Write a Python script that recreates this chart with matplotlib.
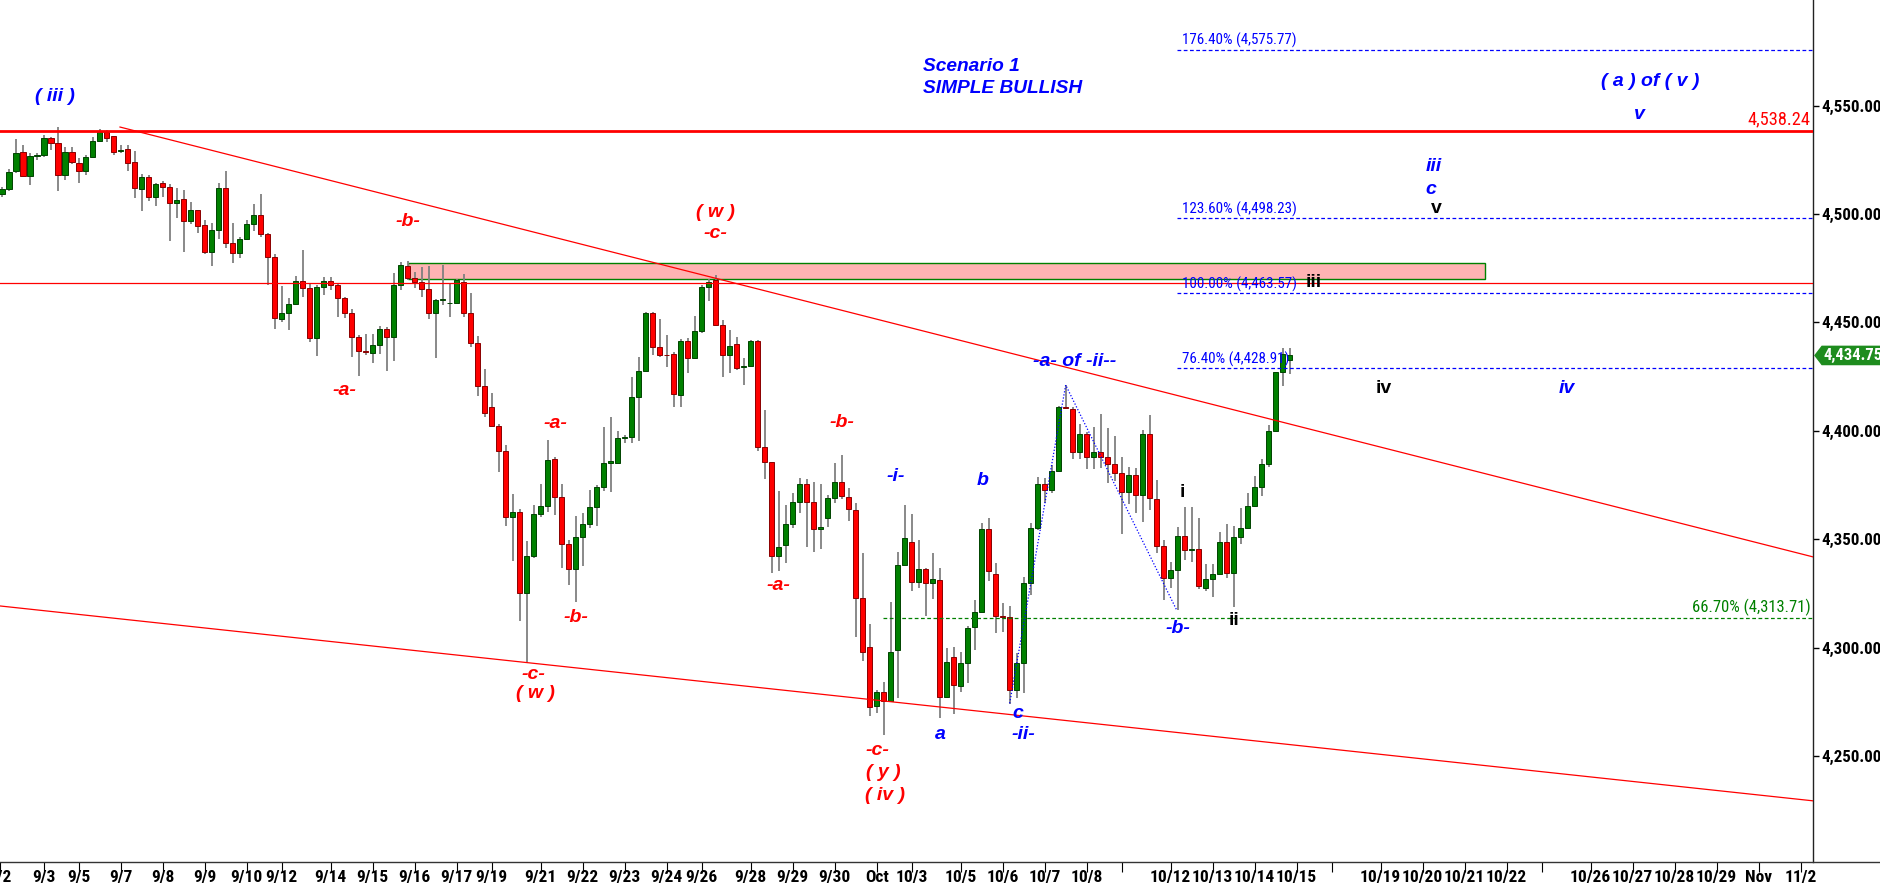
import matplotlib
matplotlib.use("Agg")
import matplotlib.pyplot as plt
from matplotlib import font_manager as fm
from matplotlib.lines import Line2D
from matplotlib.patches import Polygon, Rectangle
from matplotlib.transforms import blended_transform_factory
import numpy as np

# ---------------- data ----------------
opens = [4509.1, 4511.4, 4519.7, 4528.4, 4517.7, 4526.9, 4527.1, 4534.9, 4532.6, 4518.2,
         4528.4, 4523.4, 4520.0, 4526.4, 4533.8, 4538.0, 4536.0, 4529.1, 4529.8, 4523.8,
         4511.4, 4517.2, 4508.0, 4514.2, 4512.6, 4504.9, 4506.8, 4496.9, 4501.8, 4494.8,
         4482.6, 4492.6, 4511.8, 4486.8, 4481.9, 4488.3, 4495.4, 4499.4, 4490.6, 4480.0,
         4451.4, 4454.2, 4458.5, 4469.2, 4465.7, 4442.6, 4466.5, 4469.2, 4467.1, 4461.1,
         4454.2, 4443.1, 4437.0, 4436.1, 4439.6, 4446.8, 4443.4, 4467.3, 4476.0, 4470.3,
         4468.8, 4465.3, 4454.2, 4460.3, 4458.8, 4458.8, 4468.8, 4454.5, 4440.7, 4420.8,
         4411.1, 4402.4, 4390.8, 4360.1, 4362.7, 4325.3, 4342.3, 4361.5, 4365.3, 4386.8,
         4369.3, 4347.8, 4336.1, 4350.9, 4357.0, 4364.7, 4374.2, 4385.3, 4385.3, 4396.5,
         4397.1, 4415.7, 4427.7, 4454.5, 4438.5, 4435.0, 4435.3, 4416.5, 4441.4, 4433.4,
         4446.0, 4466.2, 4469.5, 4448.8, 4435.0, 4439.9, 4429.6, 4430.0, 4441.4, 4392.7,
         4385.5, 4342.2, 4347.3, 4356.8, 4367.0, 4375.3, 4367.3, 4354.5, 4359.6, 4369.2,
         4376.5, 4369.6, 4363.5, 4322.7, 4300.4, 4273.1, 4279.4, 4275.5, 4298.9, 4338.1,
         4348.5, 4330.4, 4336.1, 4329.9, 4331.2, 4277.1, 4295.5, 4282.3, 4292.7, 4309.4,
         4316.6, 4354.5, 4333.9, 4314.6, 4313.9, 4280.4, 4292.7, 4329.6, 4355.0, 4375.3,
         4372.7, 4381.6, 4410.8, 4409.9, 4390.1, 4398.4, 4387.7, 4390.1, 4387.7, 4384.7,
         4380.7, 4371.9, 4379.6, 4370.4, 4398.4, 4368.4, 4347.0, 4331.9, 4335.8, 4351.6,
         4345.0, 4345.3, 4327.3, 4331.5, 4333.9, 4348.6, 4334.3, 4351.2, 4355.0, 4365.3,
         4374.2, 4384.7, 4399.9, 4427.3, 4432.8]
highs = [4512.3, 4520.6, 4534.4, 4531.8, 4528.3, 4528.3, 4536.4, 4535.7, 4540.0, 4531.0,
         4531.0, 4525.7, 4527.2, 4535.4, 4539.1, 4538.7, 4536.0, 4531.8, 4531.8, 4529.1,
         4518.4, 4518.0, 4514.4, 4515.2, 4513.8, 4511.8, 4511.1, 4505.7, 4501.8, 4497.2,
         4495.7, 4514.4, 4519.8, 4495.7, 4489.5, 4497.2, 4504.6, 4509.2, 4491.4, 4481.5,
         4466.8, 4461.1, 4471.4, 4483.4, 4468.0, 4467.2, 4471.1, 4471.1, 4468.0, 4461.9,
         4456.0, 4444.2, 4444.7, 4444.7, 4448.3, 4448.0, 4472.6, 4478.0, 4478.3, 4473.4,
         4475.7, 4476.0, 4460.6, 4476.5, 4468.0, 4469.9, 4472.3, 4463.4, 4443.7, 4428.4,
         4417.6, 4403.1, 4393.5, 4370.8, 4363.8, 4349.3, 4365.8, 4375.5, 4395.8, 4388.1,
         4375.5, 4349.6, 4360.7, 4361.9, 4372.7, 4375.0, 4401.9, 4406.5, 4400.1, 4398.1,
         4425.0, 4433.9, 4455.0, 4455.0, 4451.4, 4444.2, 4436.5, 4442.2, 4442.6, 4453.0,
         4467.2, 4469.9, 4471.9, 4451.1, 4446.5, 4443.1, 4433.4, 4441.9, 4441.9, 4409.6,
         4385.5, 4372.4, 4365.8, 4371.2, 4378.4, 4377.6, 4376.2, 4375.3, 4370.4, 4385.0,
         4388.8, 4373.5, 4366.5, 4343.5, 4310.9, 4280.4, 4284.3, 4321.2, 4344.2, 4365.8,
         4361.6, 4349.6, 4336.9, 4343.8, 4336.6, 4299.7, 4300.1, 4298.1, 4310.0, 4322.0,
         4357.3, 4359.6, 4339.2, 4320.4, 4319.2, 4297.4, 4332.7, 4357.6, 4378.8, 4378.1,
         4384.2, 4411.4, 4421.1, 4410.8, 4403.1, 4399.6, 4401.9, 4407.6, 4401.1, 4397.6,
         4388.1, 4383.5, 4382.7, 4400.4, 4407.3, 4377.3, 4349.6, 4339.6, 4355.8, 4364.7,
         4364.7, 4359.6, 4338.6, 4338.6, 4353.5, 4357.0, 4356.1, 4364.2, 4371.2, 4379.1,
         4386.8, 4402.7, 4427.3, 4438.0, 4438.0]
lows = [4507.7, 4510.8, 4518.8, 4517.2, 4513.5, 4524.9, 4526.4, 4529.5, 4510.5, 4515.7,
        4523.1, 4514.4, 4518.0, 4526.4, 4533.8, 4533.4, 4527.2, 4528.0, 4520.0, 4507.5,
        4501.5, 4506.0, 4503.8, 4507.7, 4487.7, 4498.0, 4482.6, 4495.4, 4491.4, 4481.5,
        4476.2, 4488.3, 4484.2, 4477.6, 4479.5, 4488.0, 4492.3, 4489.2, 4467.2, 4446.8,
        4450.3, 4446.5, 4458.5, 4461.9, 4441.1, 4434.5, 4462.6, 4464.9, 4452.6, 4451.9,
        4433.9, 4425.4, 4435.0, 4431.4, 4435.4, 4427.7, 4432.4, 4464.9, 4469.6, 4465.7,
        4461.9, 4451.4, 4433.4, 4458.0, 4452.3, 4458.8, 4452.3, 4438.8, 4416.2, 4406.5,
        4401.9, 4381.1, 4356.1, 4340.1, 4312.4, 4293.5, 4341.2, 4360.1, 4362.7, 4361.2,
        4336.6, 4328.9, 4321.2, 4337.6, 4355.0, 4356.1, 4372.4, 4371.9, 4385.0, 4394.5,
        4394.5, 4395.5, 4427.7, 4435.0, 4433.9, 4429.6, 4410.8, 4410.8, 4426.8, 4433.0,
        4445.0, 4460.0, 4448.3, 4425.0, 4426.8, 4428.0, 4421.1, 4430.0, 4390.8, 4377.6,
        4334.6, 4335.5, 4338.9, 4355.0, 4361.9, 4346.3, 4344.3, 4345.3, 4355.5, 4366.5,
        4368.4, 4358.5, 4304.7, 4294.0, 4268.4, 4269.7, 4259.7, 4275.5, 4276.6, 4338.0,
        4326.3, 4327.3, 4314.6, 4322.3, 4267.4, 4276.6, 4269.4, 4279.7, 4283.5, 4298.9,
        4316.6, 4330.9, 4306.6, 4307.3, 4274.0, 4276.6, 4279.2, 4324.3, 4354.2, 4366.5,
        4371.5, 4381.2, 4409.9, 4386.8, 4386.8, 4382.2, 4382.2, 4382.7, 4376.1, 4377.0,
        4352.4, 4366.2, 4362.2, 4358.1, 4363.5, 4343.8, 4322.0, 4327.3, 4317.3, 4340.4,
        4339.6, 4326.9, 4326.3, 4323.2, 4333.9, 4331.9, 4318.9, 4347.8, 4354.5, 4365.0,
        4369.9, 4383.5, 4399.6, 4420.7, 4426.2]
closes = [4511.4, 4519.2, 4528.0, 4517.7, 4526.9, 4527.1, 4534.9, 4532.6, 4518.2, 4528.4,
          4524.1, 4520.0, 4526.4, 4533.8, 4538.0, 4534.9, 4528.7, 4529.7, 4523.7, 4511.8,
          4517.2, 4508.0, 4513.7, 4512.6, 4504.9, 4506.5, 4496.9, 4501.8, 4494.5, 4482.6,
          4492.6, 4511.8, 4486.8, 4481.9, 4488.3, 4495.4, 4499.4, 4490.6, 4480.0, 4451.9,
          4454.2, 4458.5, 4469.2, 4465.7, 4442.6, 4466.5, 4469.2, 4467.1, 4461.1, 4454.2,
          4443.1, 4437.0, 4436.5, 4439.6, 4446.8, 4443.4, 4467.3, 4476.5, 4470.3, 4468.8,
          4465.3, 4454.2, 4460.3, 4460.5, 4459.0, 4469.6, 4454.5, 4440.7, 4420.8, 4408.1,
          4402.4, 4390.8, 4360.1, 4362.7, 4325.0, 4342.3, 4361.5, 4365.3, 4386.5, 4369.3,
          4347.8, 4336.1, 4350.9, 4357.0, 4364.7, 4374.2, 4385.3, 4385.9, 4396.5, 4397.1,
          4415.7, 4427.7, 4454.5, 4438.5, 4435.0, 4434.8, 4417.0, 4441.4, 4433.4, 4446.0,
          4466.2, 4468.8, 4448.8, 4435.0, 4439.3, 4428.8, 4430.0, 4441.4, 4392.7, 4385.5,
          4342.2, 4346.3, 4356.8, 4367.0, 4375.3, 4367.3, 4354.5, 4355.8, 4369.2, 4376.5,
          4370.1, 4363.8, 4323.0, 4298.1, 4272.4, 4279.7, 4275.5, 4298.1, 4338.1, 4350.4,
          4330.4, 4336.1, 4329.9, 4331.5, 4277.1, 4293.5, 4282.8, 4292.7, 4308.9, 4316.6,
          4354.5, 4335.5, 4314.6, 4314.3, 4280.4, 4292.7, 4329.6, 4355.0, 4375.3, 4372.7,
          4381.6, 4410.8, 4410.5, 4390.1, 4398.4, 4387.7, 4390.1, 4387.7, 4384.7, 4380.4,
          4371.9, 4379.6, 4370.4, 4398.4, 4368.8, 4346.9, 4331.9, 4335.8, 4351.6, 4345.0,
          4345.6, 4328.4, 4331.5, 4333.9, 4348.6, 4334.3, 4351.2, 4355.0, 4365.3, 4374.2,
          4384.7, 4399.9, 4427.3, 4435.4, 4434.75]

tick_pos = [-0.2, 6, 11, 17, 23, 29, 35, 40, 47, 53, 59, 65, 70, 77, 83, 89, 95, 100, 107, 113,
            119, 125, 130, 137, 143, 149, 155, 160, 167, 173, 179, 185, 190, 197, 203, 209, 215,
            220, 227, 233, 239, 245, 251, 257]
tick_labels = ['9/2', '9/3', '9/5', '9/7', '9/8', '9/9', '9/10', '9/12', '9/14', '9/15', '9/16',
               '9/17', '9/19', '9/21', '9/22', '9/23', '9/24', '9/26', '9/28', '9/29', '9/30',
               'Oct', '10/3', '10/5', '10/6', '10/7', '10/8', '', '10/12', '10/13', '10/14',
               '10/15', '', '10/19', '10/20', '10/21', '10/22', '', '10/26', '10/27', '10/28',
               '10/29', 'Nov', '11/2']
price_ticks = [4250, 4300, 4350, 4400, 4450, 4500, 4550]

resistance = 4538.24
zone_line = 4468.0
zone_box = (58.0, 211.9, 4470.0, 4477.6)   # x0, x1, low, high
fib_levels = [4575.77, 4498.23, 4463.57, 4428.91]
fib_names = ['176.40%', '123.60%', '100.00%', '76.40%']
fib_start = 167.9
green_level = 4313.71
green_start = 125.9
upper_trend = ((16.9, 4540.1), (258.8, 4341.8))
lower_trend = ((-0.24, 4319.2), (258.8, 4229.3))
zigzag_x = [144.0, 152.0, 167.9]
zigzag_y = [4274.3, 4421.1, 4317.0]
last_price = 4434.75

# wave labels: x index, price, text, colour, style ('w' = bold italic, 'n' = upright)
labels = [
    (7.6, 4554.4, '( iii )', 'blue', 'w'),
    (58.1, 4496.4, '-b-', 'red', 'w'),
    (102.0, 4500.9, '( w )', 'red', 'w'),
    (101.9, 4490.8, '-c-', 'red', 'w'),
    (49.0, 4418.5, '-a-', 'red', 'w'),
    (79.1, 4403.5, '-a-', 'red', 'w'),
    (82.1, 4314.0, '-b-', 'red', 'w'),
    (75.9, 4287.4, '-c-', 'red', 'w'),
    (76.2, 4278.9, '( w )', 'red', 'w'),
    (120.1, 4403.9, '-b-', 'red', 'w'),
    (111.0, 4328.5, '-a-', 'red', 'w'),
    (127.7, 4378.8, '-i-', 'blue', 'w'),
    (140.1, 4377.0, 'b', 'blue', 'w'),
    (134.1, 4259.7, 'a', 'blue', 'w'),
    (125.1, 4252.4, '-c-', 'red', 'w'),
    (125.9, 4242.3, '( y )', 'red', 'w'),
    (126.2, 4231.9, '( iv )', 'red', 'w'),
    (146.0, 4260.1, '-ii-', 'blue', 'w'),
    (145.2, 4269.7, 'c', 'blue', 'w'),
    (153.3, 4431.9, '-a- of -ii--', 'blue', 'w'),
    (168.7, 4371.4, 'i', 'black', 'n'),
    (168.1, 4308.9, '-b-', 'blue', 'w'),
    (176.1, 4312.7, 'ii', 'black', 'n'),
    (187.5, 4468.2, 'iii', 'black', 'n'),
    (197.5, 4419.7, 'iv', 'black', 'n'),
    (223.6, 4419.7, 'iv', 'blue', 'w'),
    (204.6, 4521.7, 'iii', 'blue', 'w'),
    (204.2, 4511.5, 'c', 'blue', 'w'),
    (205.0, 4502.3, 'v', 'black', 'n'),
    (234.0, 4546.1, 'v', 'blue', 'w'),
    (235.5, 4561.3, '( a ) of ( v )', 'blue', 'w'),
]
title_lines = ['Scenario 1', 'SIMPLE BULLISH']
title_pos = [(131.6, 4567.9), (131.6, 4557.7)]

# ---------------- fonts ----------------
entries = fm.fontManager.ttflist
names = {f.name for f in entries}
SANS = 'Liberation Sans' if 'Liberation Sans' in names else 'DejaVu Sans'
narrow_kw = None
for cand in ['Liberation Sans Narrow', 'Arial Narrow', 'Roboto Condensed', 'Open Sans Condensed']:
    if cand in names:
        narrow_kw = dict(family=cand)
        break
narrow_scale = 1.0
if narrow_kw is None:
    if any(f.name == 'DejaVu Sans' and f.stretch == 'condensed' for f in entries):
        narrow_kw = dict(family='DejaVu Sans', stretch='condensed')
        narrow_scale = 0.9
    else:
        narrow_kw = dict(family=SANS)
        narrow_scale = 0.82

def nfont(size, **kw):
    d = dict(narrow_kw)
    d['fontsize'] = size * narrow_scale
    d.update(kw)
    return d

# ---------------- figure ----------------
W, H = 1881, 885
fig = plt.figure(figsize=(W / 100, H / 100), dpi=100)
ax_right_px = 1813
ax_bottom_px = 862
ax = fig.add_axes([0, (H - ax_bottom_px) / H, ax_right_px / W, ax_bottom_px / H])
ax.set_xlim(-0.243, 258.76)
ax.set_ylim(4201.1, 4598.7)

for s in ['left', 'top', 'bottom']:
    ax.spines[s].set_visible(False)
ax.spines['right'].set_color('#222222')
ax.spines['right'].set_linewidth(1.0)
fig.add_artist(Line2D([0, 1], [(H - ax_bottom_px) / H] * 2, transform=fig.transFigure,
                      color='#333333', lw=1.0))

# candles
o = np.array(opens); h = np.array(highs); l = np.array(lows); c = np.array(closes)
x = np.arange(len(o))
up = c >= o
ax.vlines(x, l, h, color='#808080', lw=1.3, zorder=2)
body_lo = np.minimum(o, c)
body_h = np.maximum(np.abs(c - o), 0.35)
ax.bar(x[up], body_h[up], bottom=body_lo[up], width=0.8, color='#008000',
       edgecolor='#004400', linewidth=0.7, zorder=3)
ax.bar(x[~up], body_h[~up], bottom=body_lo[~up], width=0.8, color='#FF0000',
       edgecolor='#8B0000', linewidth=0.7, zorder=3)

# zone box
zb = Rectangle((zone_box[0], zone_box[2]), zone_box[1] - zone_box[0], zone_box[3] - zone_box[2],
               facecolor='#FFB3B3', edgecolor='#008000', lw=1.0, zorder=1)
ax.add_patch(zb)

# horizontal lines
ax.axhline(resistance, color='#FF0000', lw=2.0, zorder=4)
ax.axhline(zone_line, color='#FF0000', lw=0.9, zorder=4)
for lv in fib_levels:
    ax.plot([fib_start, 258.76], [lv, lv], color='#0000FF', lw=0.9, ls=(0, (3, 2)), zorder=4)
ax.plot([green_start, 258.76], [green_level, green_level], color='#008000', lw=0.9,
        ls=(0, (3, 2)), zorder=4)

# trend lines
ax.plot([upper_trend[0][0], upper_trend[1][0]], [upper_trend[0][1], upper_trend[1][1]],
        color='#FF0000', lw=0.9, zorder=4)
ax.plot([lower_trend[0][0], lower_trend[1][0]], [lower_trend[0][1], lower_trend[1][1]],
        color='#FF0000', lw=0.9, zorder=4)
ax.plot(zigzag_x, zigzag_y, color='#0000FF', lw=0.9, ls=(0, (1, 1.5)), zorder=4)

# fib texts
for lv, nm in zip(fib_levels, fib_names):
    ax.text(168.6, lv + 0.6, f'{nm} ({lv:,.2f})', color='#0000FF', ha='left', va='bottom',
            zorder=6, **nfont(10.8))
ax.text(258.4, green_level + 0.8, f'66.70% ({green_level:,.2f})', color='#008000',
        ha='right', va='bottom', zorder=6, **nfont(12))
ax.text(258.4, resistance + 1.2, f'{resistance:,.2f}', color='#FF0000', ha='right',
        va='bottom', zorder=6, **nfont(13.2))

# wave labels
for lx, ly, t, col, st in labels:
    colour = {'blue': '#0000FF', 'red': '#FF0000', 'black': '#000000'}[col]
    if st == 'w':
        ax.text(lx, ly, t, color=colour, ha='center', va='center', fontsize=14,
                fontweight='bold', fontstyle='italic', family=SANS, zorder=7)
    else:
        ax.text(lx, ly, t, color=colour, ha='center', va='center', fontsize=14,
                fontweight='bold', family=SANS, zorder=7)
for (tx, ty), t in zip(title_pos, title_lines):
    ax.text(tx, ty, t, color='#0000FF', ha='left', va='center', fontsize=13.8,
            fontweight='bold', fontstyle='italic', family=SANS, zorder=7)

# axes ticks
ax.yaxis.tick_right()
ax.set_yticks(price_ticks)
ax.set_yticklabels([f'{p:,.2f}' for p in price_ticks])
ax.tick_params(axis='y', direction='out', length=4, width=1, pad=2, colors='#000000')
for lab in ax.get_yticklabels():
    lab.set_fontweight('bold')
    lab.set_fontsize(12.2 * narrow_scale)
    lab.set_family(narrow_kw['family'])
    if 'stretch' in narrow_kw:
        lab.set_stretch(narrow_kw['stretch'])

ax.set_xticks(tick_pos)
ax.set_xticklabels(tick_labels)
ax.tick_params(axis='x', direction='out', length=7, width=0.8, pad=-1.5, colors='#000000')
for lab in ax.get_xticklabels():
    lab.set_fontweight('bold')
    lab.set_fontsize(12.5 * narrow_scale)
    lab.set_family(narrow_kw['family'])
    if 'stretch' in narrow_kw:
        lab.set_stretch(narrow_kw['stretch'])

# last price marker
bt = blended_transform_factory(ax.transAxes, ax.transData)
x0 = 1.0 + 2 / ax_right_px
x1 = 1.0 + 9 / ax_right_px
x2 = W / ax_right_px
hh = 4.2
poly = Polygon([(x0, last_price), (x1, last_price + hh), (x2, last_price + hh),
                (x2, last_price - hh), (x1, last_price - hh)], closed=True,
               transform=bt, facecolor='#1E8C1E', edgecolor='#1E8C1E', clip_on=False, zorder=8)
ax.add_patch(poly)
ax.text((x1 + x2) / 2 + 0.001, last_price, f'{last_price:,.2f}', transform=bt, color='white',
        ha='center', va='center', fontweight='bold', clip_on=False, zorder=9, **nfont(12))

fig.savefig('out.png', dpi=100, facecolor='white')
